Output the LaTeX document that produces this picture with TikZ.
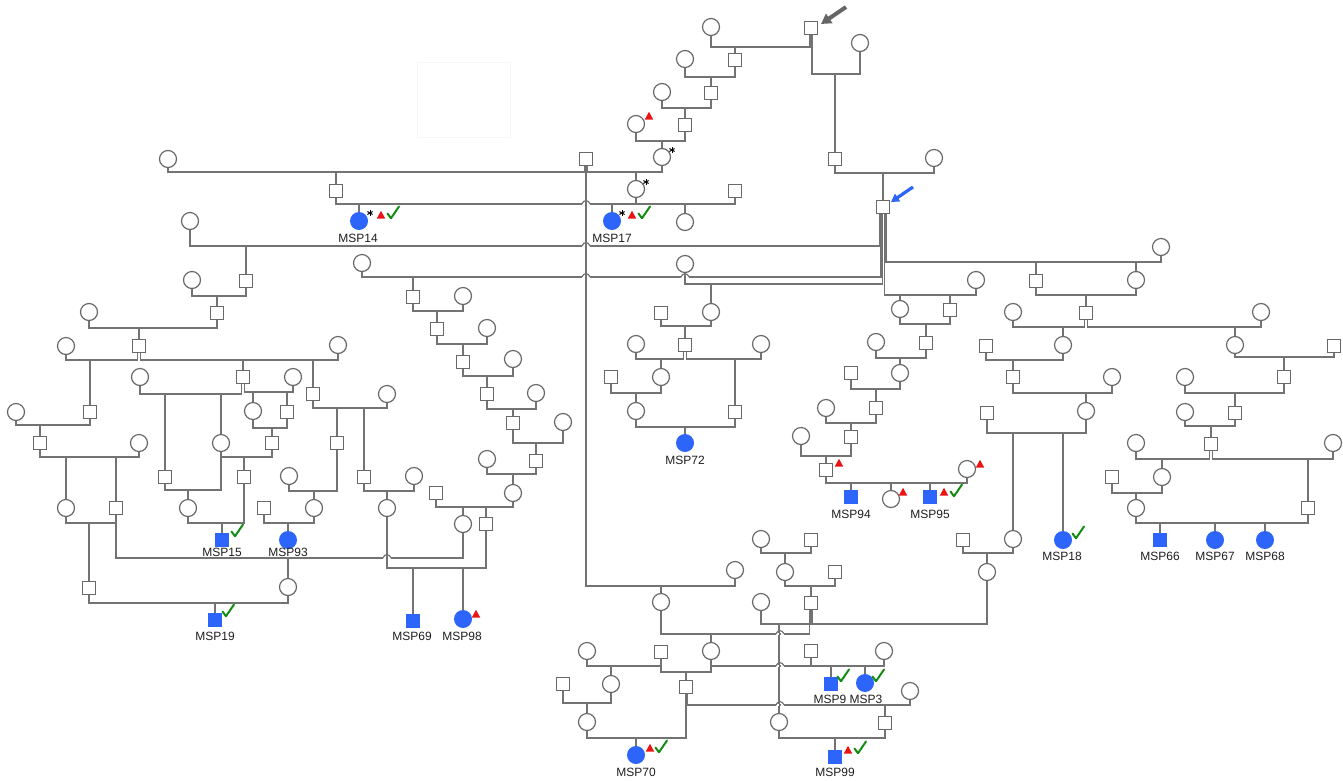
\documentclass[tikz,border=0pt]{standalone}
\usepackage{fontspec}
\setmainfont{Liberation Sans}
\usetikzlibrary{arrows.meta}
\definecolor{lin}{RGB}{115,115,115}
\definecolor{sym}{RGB}{105,105,105}
\definecolor{aff}{RGB}{45,100,250}
\definecolor{trired}{RGB}{235,20,20}
\definecolor{chkgreen}{RGB}{20,140,20}
\newcommand\pcplo[5]{%
 \coordinate (cy) at (0,#5);
 \coordinate (ca) at ([xshift=#2]#1.south);
 \coordinate (cb) at ([xshift=#4]#3.south);
 \draw[ln] (ca) -- (ca |- cy) -- (cb |- cy) -- (cb);}
\newcommand\pcpl[3]{\pcplo{#1}{0pt}{#2}{0pt}{#3}}
\newcommand\pkid[2]{%
 \coordinate (cy) at (0,#2);
 \draw[ln] (#1.north) -- (#1.north |- cy);}
\newcommand\phop[2]{%
 \fill[white] (#1-4.2,#2-1.3) rectangle (#1-0.9,#2+1.3);
 \fill[white] (#1+0.9,#2-1.3) rectangle (#1+4.2,#2+1.3);
 \draw[ln] (#1-4.2,#2) .. controls (#1-2,#2-4.5) and (#1+2,#2-4.5) .. (#1+4.2,#2);}
\newcommand\ptri[2]{\fill[trired] (#1-4.2,#2+3.5) -- (#1+4.2,#2+3.5) -- (#1,#2-4.2) -- cycle;}
\newcommand\pchk[2]{\draw[chkgreen,line width=2pt,line cap=round,line join=round] (#1-5.5,#2+0.5) -- (#1-2,#2+5.2) -- (#1+6,#2-6.5);}
\newcommand\mkast[2]{\foreach \a in {90,30,150}{\draw[line width=1pt] (#1,#2) +(\a:3) -- +(\a+180:3);}}
\tikzset{
 fe/.style={circle, draw=sym, line width=1.2pt, fill=white, minimum size=17pt, inner sep=0pt},
 ma/.style={rectangle, draw=sym, line width=1.2pt, fill=white, minimum size=13.5pt, inner sep=0pt},
 fp/.style={circle, fill=aff, minimum size=18pt, inner sep=0pt},
 mp/.style={rectangle, fill=aff, minimum size=14pt, inner sep=0pt},
 ln/.style={draw=lin, line width=1.2pt},
 lab/.style={font=\fontsize{12}{12}\selectfont, text=black!88, inner sep=0pt},
}
\begin{document}
\begin{tikzpicture}[x=1pt,y=-1pt]
\useasboundingbox (0,0) rectangle (1343,780);
\fill[white] (0,0) rectangle (1343,780);
\draw[black!4, line width=0.8pt] (417,62) rectangle (510,137);
% ---------------- nodes: top
\node[fe] (f1) at (711,27) {};
\node[ma] (m1) at (811,28) {};
\node[fe] (f2) at (860,43) {};
\node[ma] (m2) at (735,60) {};
\node[fe] (f3) at (685,59) {};
\node[ma] (m3) at (711,93) {};
\node[fe] (f4) at (662,92) {};
\node[ma] (m4) at (685,125) {};
\node[fe] (f5) at (636,124) {};
\node[fe] (f6) at (662,157) {};
\node[ma] (m5) at (586,159) {};
\node[fe] (f7) at (168,159) {};
\node[ma] (m6) at (336,191) {};
\node[fe] (f8) at (636,189) {};
\node[ma] (m7) at (735,191) {};
\node[fp] (p14) at (359,221) {};
\node[fp] (p17) at (612,221) {};
\node[fe] (f9) at (685,222) {};
\node[ma] (m8) at (835,159) {};
\node[fe] (f10) at (934,158) {};
\node[ma] (m9) at (883,207) {};
\node[fe] (f11) at (190,221) {};
\node[fe] (f12) at (362,263) {};
\node[fe] (f13) at (685,264) {};
\node[fe] (f14) at (1161,247) {};
\node[fe] (f15) at (976,280) {};
% ---------------- nodes: left cluster
\node[ma] (m10) at (246,281) {};
\node[fe] (f19) at (192,280) {};
\node[ma] (m14) at (217,313) {};
\node[fe] (f20) at (89,312) {};
\node[ma] (m15) at (139,346) {};
\node[fe] (f21) at (66,346) {};
\node[fe] (f22) at (338,345) {};
\node[ma] (m16) at (90,412) {};
\node[ma] (m17) at (243,377) {};
\node[ma] (m18) at (313,394) {};
\node[fe] (f23) at (140,377) {};
\node[fe] (f24) at (293,377) {};
\node[ma] (m19) at (165,477) {};
\node[fe] (f25) at (221,443) {};
\node[fe] (f26) at (253,411) {};
\node[ma] (m20) at (287,412) {};
\node[ma] (m21) at (272,443) {};
\node[ma] (m22) at (244,477) {};
\node[fe] (f27) at (188,508) {};
\node[mp] (p15) at (222,540) {};
\node[fe] (f28) at (16,412) {};
\node[ma] (m23) at (40,443) {};
\node[fe] (f29) at (139,443) {};
\node[fe] (f30) at (66,508) {};
\node[ma] (m24) at (116,508) {};
\node[fe] (f31) at (387,394) {};
\node[ma] (m25) at (337,443) {};
\node[ma] (m26) at (364,477) {};
\node[fe] (f32) at (289,476) {};
\node[fe] (f33) at (314,508) {};
\node[fe] (f34) at (414,476) {};
\node[fe] (f35) at (387,508) {};
\node[ma] (m27) at (264,508) {};
\node[fp] (p93) at (288,540) {};
\node[ma] (m28) at (89,588) {};
\node[fe] (f36) at (463,524) {};
\node[fe] (f37) at (288,587) {};
\node[mp] (p19) at (215,620) {};
\node[ma] (m29) at (486,524) {};
\node[mp] (p69) at (413,621) {};
\node[fp] (p98) at (463,619) {};
% ---------------- diagonal chain
\node[ma] (m11) at (413,297) {};
\node[fe] (f38) at (463,296) {};
\node[ma] (m30) at (437,329) {};
\node[fe] (f39) at (487,328) {};
\node[ma] (m31) at (463,362) {};
\node[fe] (f40) at (513,359) {};
\node[ma] (m32) at (487,394) {};
\node[fe] (f41) at (536,393) {};
\node[ma] (m33) at (513,423) {};
\node[fe] (f42) at (563,422) {};
\node[ma] (m34) at (536,461) {};
\node[fe] (f43) at (487,459) {};
\node[fe] (f44) at (513,493) {};
\node[ma] (m35) at (436,493) {};
% ---------------- MSP72 branch
\node[fe] (f16) at (711,312) {};
\node[ma] (m36) at (661,313) {};
\node[ma] (m37) at (685,345) {};
\node[fe] (f45) at (636,344) {};
\node[fe] (f46) at (761,344) {};
\node[fe] (f47) at (661,377) {};
\node[ma] (m38) at (735,412) {};
\node[ma] (m39) at (611,377) {};
\node[fe] (f48) at (636,411) {};
\node[fp] (p72) at (685,443) {};
% ---------------- right-centre
\node[fe] (f18) at (900,309) {};
\node[ma] (m13) at (950,310) {};
\node[ma] (m40) at (926,343) {};
\node[fe] (f49) at (876,342) {};
\node[fe] (f50) at (900,373) {};
\node[ma] (m41) at (851,373) {};
\node[ma] (m42) at (876,408) {};
\node[fe] (f51) at (826,408) {};
\node[ma] (m43) at (851,437) {};
\node[fe] (f52) at (801,436) {};
\node[ma] (m44) at (826,470) {};
\node[fe] (f53) at (967,469) {};
\node[mp] (p94) at (851,497) {};
\node[fe] (f54) at (891,499) {};
\node[mp] (p95) at (930,497) {};
% ---------------- right
\node[ma] (m12) at (1036,281) {};
\node[fe] (f17) at (1136,280) {};
\node[ma] (m45) at (1086,313) {};
\node[fe] (f55) at (1013,312) {};
\node[fe] (f56) at (1261,312) {};
\node[fe] (f57) at (1063,345) {};
\node[fe] (f58) at (1235,345) {};
\node[ma] (m46) at (986,346) {};
\node[ma] (m47) at (1013,377) {};
\node[fe] (f59) at (1112,377) {};
\node[fe] (f60) at (1086,411) {};
\node[ma] (m48) at (987,413) {};
\node[fe] (f61) at (1013,539) {};
\node[fp] (p18) at (1063,540) {};
\node[ma] (m49) at (963,540) {};
\node[fe] (f62) at (987,572) {};
\node[ma] (m50) at (1334,346) {};
\node[ma] (m51) at (1284,377) {};
\node[fe] (f63) at (1185,377) {};
\node[ma] (m52) at (1235,413) {};
\node[fe] (f64) at (1185,412) {};
\node[ma] (m53) at (1211,444) {};
\node[fe] (f65) at (1136,443) {};
\node[fe] (f66) at (1333,443) {};
\node[fe] (f67) at (1162,477) {};
\node[ma] (m54) at (1308,508) {};
\node[ma] (m55) at (1112,477) {};
\node[fe] (f68) at (1136,508) {};
\node[mp] (p66) at (1160,540) {};
\node[fp] (p67) at (1215,540) {};
\node[fp] (p68) at (1265,540) {};
% ---------------- bottom middle
\node[fe] (f69) at (735,570) {};
\node[fe] (f70) at (661,602) {};
\node[fe] (f71) at (761,539) {};
\node[ma] (m56) at (811,540) {};
\node[fe] (f72) at (785,572) {};
\node[ma] (m57) at (835,572) {};
\node[ma] (m58) at (811,603) {};
\node[fe] (f73) at (761,602) {};
\node[fe] (f74) at (587,651) {};
\node[ma] (m59) at (661,652) {};
\node[fe] (f75) at (711,651) {};
\node[ma] (m60) at (811,651) {};
\node[fe] (f76) at (884,651) {};
\node[fe] (f77) at (611,684) {};
\node[ma] (m62) at (563,684) {};
\node[fe] (f79) at (587,722) {};
\node[ma] (m61) at (686,687) {};
\node[fe] (f80) at (910,691) {};
\node[ma] (m63) at (885,723) {};
\node[fe] (f78) at (779,722) {};
\node[mp] (p9) at (831,684) {};
\node[fp] (p3) at (865,683) {};
\node[fp] (p70) at (636,755) {};
\node[mp] (p99) at (835,757) {};
% ================= connectors
% top
\pcplo{f1}{0pt}{m1}{-1pt}{47} \pkid{m2}{47}
\pcplo{m1}{1pt}{f2}{0pt}{74} \pkid{m8}{74}
\pcpl{f3}{m2}{77} \pkid{m3}{77}
\pcpl{f4}{m3}{108} \pkid{m4}{108}
\pcpl{f5}{m4}{141} \pkid{f6}{141}
\pcplo{f7}{0pt}{m5}{-1.5pt}{172} \pkid{m6}{172}
\pcplo{m5}{1.5pt}{f6}{0pt}{172} \pkid{f8}{172}
\pcpl{m6}{f8}{204} \pkid{p14}{204} \pkid{p17}{204}
\pcpl{f8}{m7}{204} \pkid{f9}{204}
\pcpl{m8}{f10}{173} \pkid{m9}{173}
\pcplo{f11}{0pt}{m9}{-3.5pt}{246} \pkid{m10}{246}
\pcplo{f12}{0pt}{m9}{-2pt}{277} \pkid{m11}{277}
\pcplo{f13}{0pt}{m9}{-0.5pt}{284} \pkid{f16}{284}
\pcplo{m9}{3pt}{f14}{0pt}{262} \pkid{m12}{262} \pkid{f17}{262}
\pcplo{m9}{1.5pt}{f15}{0pt}{295} \pkid{f18}{295} \pkid{m13}{295}
\pcpl{m5}{f69}{586} \pkid{f70}{586}
% left cluster
\pcpl{f19}{m10}{296} \pkid{m14}{296}
\pcpl{f20}{m14}{328} \pkid{m15}{328}
\pcplo{f21}{0pt}{m15}{-1.5pt}{360} \pkid{m16}{360}
\pcplo{m15}{1.5pt}{f22}{0pt}{360} \pkid{m17}{360} \pkid{m18}{360}
\pcplo{f23}{0pt}{m17}{-1.5pt}{394} \pkid{m19}{394} \pkid{f25}{394}
\pcplo{m17}{1.5pt}{f24}{0pt}{392} \pkid{f26}{392} \pkid{m20}{392}
\pcpl{f26}{m20}{428} \pkid{m21}{428}
\pcpl{f25}{m21}{457} \pkid{m22}{457}
\pcpl{m19}{f25}{490} \pkid{f27}{490}
\pcpl{f27}{m22}{523} \pkid{p15}{523}
\pcpl{f28}{m16}{425} \pkid{m23}{425}
\pcpl{m23}{f29}{457} \pkid{f30}{457} \pkid{m24}{457}
\pcpl{m18}{f31}{408} \pkid{m25}{408} \pkid{m26}{408}
\pcpl{f32}{m25}{491} \pkid{f33}{491}
\pcpl{m26}{f34}{491} \pkid{f35}{491}
\pcpl{m27}{f33}{523} \pkid{p93}{523}
\pcpl{f30}{m24}{523} \pkid{m28}{523}
\pcpl{m24}{f36}{558} \pkid{f37}{558}
\pcpl{m28}{f37}{603} \pkid{p19}{603}
\pcpl{f35}{m29}{568} \pkid{p69}{568} \pkid{p98}{568}
% diagonal chain
\pcpl{m11}{f38}{311} \pkid{m30}{311}
\pcpl{m30}{f39}{344} \pkid{m31}{344}
\pcpl{m31}{f40}{376} \pkid{m32}{376}
\pcpl{m32}{f41}{409} \pkid{m33}{409}
\pcpl{m33}{f42}{443} \pkid{m34}{443}
\pcpl{f43}{m34}{474} \pkid{f44}{474}
\pcpl{m35}{f44}{507} \pkid{f36}{507} \pkid{m29}{507}
% MSP72
\pcpl{m36}{f16}{326} \pkid{m37}{326}
\pcplo{f45}{0pt}{m37}{-1.5pt}{359} \pkid{f47}{359}
\pcplo{m37}{1.5pt}{f46}{0pt}{359} \pkid{m38}{359}
\pcpl{m39}{f47}{393} \pkid{f48}{393}
\pcpl{f48}{m38}{427} \pkid{p72}{427}
% right-centre
\pcpl{f18}{m13}{324} \pkid{m40}{324}
\pcpl{f49}{m40}{358} \pkid{f50}{358}
\pcpl{m41}{f50}{389} \pkid{m42}{389}
\pcpl{f51}{m42}{423} \pkid{m43}{423}
\pcpl{f52}{m43}{456} \pkid{m44}{456}
\pcpl{m44}{f53}{483} \pkid{p94}{483} \pkid{f54}{483} \pkid{p95}{483}
% right
\pcpl{m12}{f17}{295} \pkid{m45}{295}
\pcplo{f55}{0pt}{m45}{-1.5pt}{327} \pkid{f57}{327}
\pcplo{m45}{1.5pt}{f56}{0pt}{327} \pkid{f58}{327}
\pcpl{m46}{f57}{360} \pkid{m47}{360}
\pcpl{m47}{f59}{393} \pkid{f60}{393}
\pcpl{m48}{f60}{433} \pkid{f61}{433} \pkid{p18}{433}
\pcpl{m49}{f61}{553} \pkid{f62}{553}
\pcpl{f58}{m50}{357} \pkid{m51}{357}
\pcpl{f63}{m51}{393} \pkid{m52}{393}
\pcpl{f64}{m52}{426} \pkid{m53}{426}
\pcplo{f65}{0pt}{m53}{-1.5pt}{459} \pkid{f67}{459}
\pcplo{m53}{1.5pt}{f66}{0pt}{459} \pkid{m54}{459}
\pcpl{m55}{f67}{493} \pkid{f68}{493}
\pcpl{f68}{m54}{523} \pkid{p66}{523} \pkid{p67}{523} \pkid{p68}{523}
% bottom middle
\pcpl{f71}{m56}{553} \pkid{f72}{553}
\pcpl{f72}{m57}{586} \pkid{m58}{586}
\pcplo{f70}{0pt}{m58}{-1.5pt}{634} \pkid{f75}{634}
\pcpl{f73}{m58}{624} \pkid{f78}{624}
\pcplo{m58}{1.5pt}{f62}{0pt}{624}
\pcpl{f74}{m59}{666} \pkid{f77}{666}
\pcpl{m59}{f75}{672} \pkid{m61}{672}
\pcpl{f75}{m60}{666}
\pcpl{m60}{f76}{666} \pkid{p9}{666} \pkid{p3}{666}
\pcpl{m62}{f77}{703} \pkid{f79}{703}
\pcpl{f79}{m61}{738} \pkid{p70}{738}
\pcplo{m61}{1.5pt}{f80}{0pt}{705} \pkid{m63}{705}
\pcpl{f78}{m63}{738} \pkid{p99}{738}
% hops
\phop{586}{204} \phop{586}{246} \phop{586}{277} \phop{685}{277}
\phop{387}{558}
\phop{780}{634} \phop{780}{666} \phop{780}{705}
% ================= arrows
\draw[-{Triangle[length=10pt,width=11pt]}, line width=4pt, draw=black!60, fill=black!60] (846,7) -- (821,24);
\draw[-{Triangle[length=8pt,width=9pt]}, line width=3.2pt, draw=aff, fill=aff] (913,187) -- (891,202);
% ================= marks
\mkast{370}{213} \mkast{622}{213} \mkast{672}{150} \mkast{646}{182}
\ptri{381}{215} \ptri{632}{215} \ptri{649}{116} \ptri{839}{463} \ptri{980}{464}
\ptri{903}{492} \ptri{944}{492} \ptri{476}{614} \ptri{650}{748} \ptri{848}{750}
\pchk{393}{213} \pchk{644}{213} \pchk{237}{531} \pchk{956}{491} \pchk{1078}{533}
\pchk{228}{611} \pchk{843}{676} \pchk{878}{676} \pchk{661}{747} \pchk{860}{748}
% ================= labels
\node[lab] (l14) at (358,238) {MSP14};
\node[lab] (l17) at (612,238) {MSP17};
\node[lab] (l15) at (222,552) {MSP15};
\node[lab] (l93) at (288,552) {MSP93};
\node[lab] (l19) at (215,636) {MSP19};
\node[lab] (l69) at (412,636) {MSP69};
\node[lab] (l98) at (462,636) {MSP98};
\node[lab] (l72) at (685,460) {MSP72};
\node[lab] (l94) at (851,514) {MSP94};
\node[lab] (l95) at (930,514) {MSP95};
\node[lab] (l18) at (1062,556) {MSP18};
\node[lab] (l66) at (1160,556) {MSP66};
\node[lab] (l67) at (1215,556) {MSP67};
\node[lab] (l68) at (1265,556) {MSP68};
\node[lab] (l9) at (830,699) {MSP9};
\node[lab] (l3) at (866,699) {MSP3};
\node[lab] (l70) at (636,772) {MSP70};
\node[lab] (l99) at (835,772) {MSP99};
\end{tikzpicture}
\end{document}
